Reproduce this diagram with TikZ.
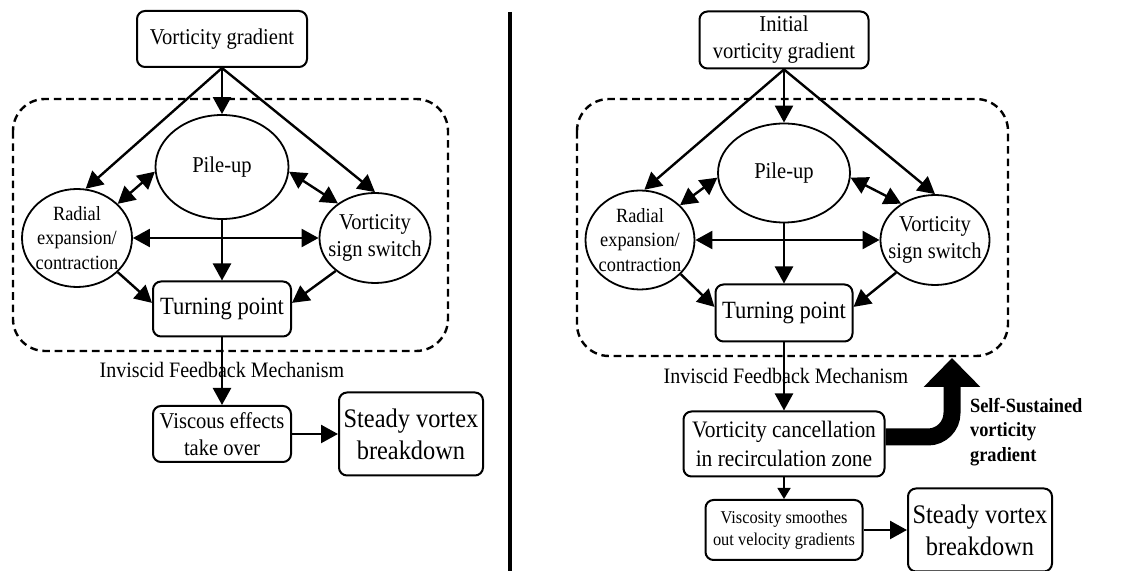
\documentclass[tikz,border=0pt]{standalone}
\usepackage{fontspec}
\setmainfont{Liberation Serif}[FakeStretch=0.91]
\usepackage{tikz}
\usetikzlibrary{arrows.meta,shapes.geometric}

\begin{document}
\begin{tikzpicture}[
    x=0.5pt, y=-0.5pt,
    >={Triangle[length=8.5pt,width=9pt]},
    block/.style={draw, line width=1pt, rounded corners=4pt, align=center, inner sep=1pt},
    bubble/.style={draw, ellipse, line width=0.9pt, align=center, inner sep=-4pt},
    midtext/.style={font=\fontsize{11.3}{13.5}\selectfont},
    smalltext/.style={font=\fontsize{10.1}{12.1}\selectfont},
    bigtext/.style={font=\fontsize{13.4}{16}\selectfont},
    arr/.style={->, line width=1.2pt},
    dblarr/.style={<->, line width=1.2pt},
    thinarr/.style={-{Triangle[length=5.5pt,width=6.5pt]}, line width=0.8pt},
    loopbox/.style={draw, line width=1.2pt, dash pattern=on 3.8pt off 2.4pt, rounded corners=16pt},
    bigarr/.style={-{Triangle[length=14.5pt,width=27.5pt]}, line width=8.5pt, rounded corners=12pt}
]
    \useasboundingbox (0,0) rectangle (1132,571);

    % left panel
    \node[block, midtext, minimum width=85pt, minimum height=28pt] (vg) at (222,39) {Vorticity gradient};
    \node[bubble, midtext, minimum width=66.5pt, minimum height=52pt] (pileup) at (222,167) {Pile-up};
    \node[bubble, smalltext, minimum width=55pt, minimum height=49pt] (radial) at (77,238) {Radial\\expansion/\\contraction};
    \node[bubble, midtext, minimum width=55.5pt, minimum height=45pt] (sign) at (375,238) {Vorticity\\sign switch};
    \node[block, font=\fontsize{12.4}{14.8}\selectfont, minimum width=69pt, minimum height=27.5pt] (turn) at (222,309) {Turning point};
    \node[font=\fontsize{11}{13}\selectfont] (inv) at (222,370) {Inviscid Feedback Mechanism};
    \node[block, midtext, minimum width=69pt, minimum height=28pt] (visc) at (222,434) {Viscous effects\\take over};
    \node[block, bigtext, minimum width=72pt, minimum height=41.5pt] (steady) at (411,434) {Steady vortex\\breakdown};
    \draw[loopbox] (13,99) rectangle (448,351);

    \draw[arr] (vg.south) -- (pileup);
    \draw[arr] (vg.south) -- (radial.80);
    \draw[arr] (vg.south) -- (sign.north);
    \draw[dblarr] (pileup.184) -- (radial.40);
    \draw[dblarr] (pileup.-4) -- (sign.137);
    \draw[dblarr] (radial) -- (sign);
    \draw[arr] (pileup) -- (turn);
    \draw[arr] (radial.-40) -- (turn.175);
    \draw[arr] (sign.-140) -- (turn.5);
    \draw[arr] (turn) -- (visc);
    \draw[arr] (visc) -- (steady);

    % separator
    \draw[line width=2pt] (510,12) -- (510,571);

    % right panel
    \node[block, midtext, minimum width=84.5pt, minimum height=28.5pt] (ivg) at (784,40) {Initial\\vorticity gradient};
    \node[bubble, midtext, minimum width=66pt, minimum height=49.5pt] (pileup2) at (784,173) {Pile-up};
    \node[bubble, smalltext, minimum width=54.5pt, minimum height=49.5pt] (radial2) at (640,240) {Radial\\expansion/\\contraction};
    \node[bubble, midtext, minimum width=54.5pt, minimum height=45pt] (sign2) at (935,240) {Vorticity\\sign switch};
    \node[block, font=\fontsize{12.4}{14.8}\selectfont, minimum width=68.5pt, minimum height=28.5pt] (turn2) at (784,313) {Turning point};
    \node[font=\fontsize{11}{13}\selectfont] (inv2) at (786,376) {Inviscid Feedback Mechanism};
    \node[block, font=\fontsize{11.8}{14.2}\selectfont, minimum width=100.5pt, minimum height=32.5pt] (cancel) at (784,444) {Vorticity cancellation\\in recirculation zone};
    \node[block, font=\fontsize{9}{11}\selectfont, minimum width=78.5pt, minimum height=30pt] (smooth) at (784,530) {Viscosity smoothes\\out velocity gradients};
    \node[block, bigtext, minimum width=72pt, minimum height=41.5pt] (steady2) at (980,530) {Steady vortex\\breakdown};
    \node[anchor=west, align=left, font=\fontsize{10.1}{12.2}\selectfont\bfseries] (selfsus) at (963,432) {Self-Sustained\\vorticity\\gradient};
    \coordinate (sstip) at (952,358);
    \draw[loopbox] (577,99) rectangle (1008,356);

    \draw[arr] (ivg.south) -- (pileup2);
    \draw[arr] (ivg.south) -- (radial2.85);
    \draw[arr] (ivg.south) -- (sign2.north);
    \draw[dblarr] (pileup2.184) -- (radial2.41);
    \draw[dblarr] (pileup2.-4) -- (sign2.133);
    \draw[dblarr] (radial2) -- (sign2);
    \draw[arr] (pileup2) -- (turn2);
    \draw[arr] (radial2.-40) -- (turn2.175);
    \draw[arr] (sign2.-140) -- (turn2.5);
    \draw[arr] (turn2) -- (cancel);
    \draw[thinarr] (cancel) -- (smooth);
    \draw[arr] (smooth) -- (steady2);
    \draw[bigarr] ([yshift=3.5pt]cancel.east) -| (sstip);
\end{tikzpicture}
\end{document}
